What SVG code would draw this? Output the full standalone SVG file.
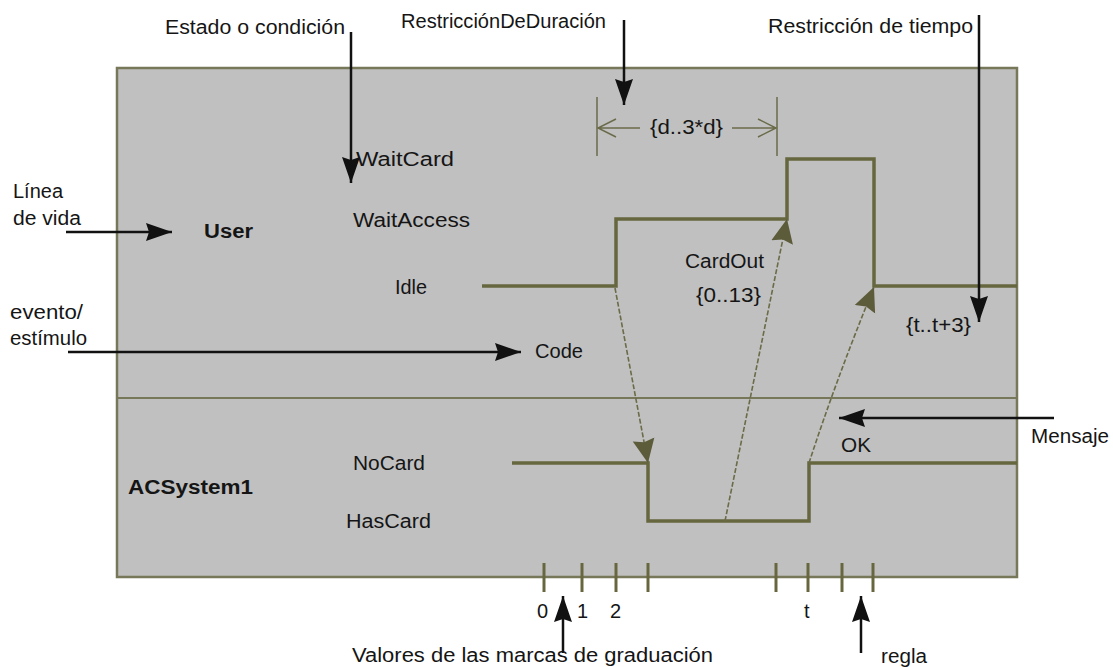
<svg xmlns="http://www.w3.org/2000/svg" width="1113" height="667" viewBox="0 0 1113 667">
<style>
text{font-family:"Liberation Sans",Arial,sans-serif;font-size:20px;fill:#151515}
.b{font-weight:bold}
.ann{stroke:#111;stroke-width:2.5;fill:none}
.sig{stroke:#66663f;stroke-width:3.5;fill:none;stroke-linejoin:miter}
.msg{stroke:#6b6b48;stroke-width:1.6;fill:none;stroke-dasharray:5 2}
.dur{stroke:#6b6b4b;stroke-width:1.5;fill:none}
.tick{stroke:#66663f;stroke-width:3}
</style>
<defs>
<marker id="ah" markerUnits="userSpaceOnUse" markerWidth="28" markerHeight="20" refX="26" refY="10" orient="auto" viewBox="0 0 28 20">
<path d="M0,1 L26,10 L0,19 L3,10 z" fill="#111"/>
</marker>
<marker id="mh" markerUnits="userSpaceOnUse" markerWidth="26" markerHeight="24" refX="24" refY="12" orient="auto" viewBox="0 0 26 24">
<path d="M0,1 L24,12 L0,23 L3,12 z" fill="#5c5c3a"/>
</marker>
</defs>

<g id="frame">
<rect x="117" y="68" width="900" height="509" fill="#c0c0c0" stroke="#77775a" stroke-width="2.5"/>
<line x1="117" y1="398" x2="1017" y2="398" stroke="#77775a" stroke-width="2"/>
</g>

<g id="lifeline-user">
<text class="b" x="204" y="238" textLength="49" lengthAdjust="spacingAndGlyphs">User</text>
<text x="356" y="166" textLength="98" lengthAdjust="spacingAndGlyphs">WaitCard</text>
<text x="353" y="227" textLength="117" lengthAdjust="spacingAndGlyphs">WaitAccess</text>
<text x="395" y="294" textLength="32" lengthAdjust="spacingAndGlyphs">Idle</text>
<text x="535" y="358" textLength="48" lengthAdjust="spacingAndGlyphs">Code</text>
<path class="sig" d="M482,286 H616 V219 H787 V159 H874 V286 H1017"/>
</g>

<g id="lifeline-acsystem">
<text class="b" x="128" y="494" textLength="125" lengthAdjust="spacingAndGlyphs">ACSystem1</text>
<text x="353" y="470" textLength="72" lengthAdjust="spacingAndGlyphs">NoCard</text>
<text x="346" y="528" textLength="85" lengthAdjust="spacingAndGlyphs">HasCard</text>
<path class="sig" d="M512,463 H648 V521 H809 V463 H1017"/>
</g>

<g id="duration-constraint">
<line class="dur" x1="597" y1="97" x2="597" y2="156"/>
<line class="dur" x1="777" y1="97" x2="777" y2="156"/>
<path class="dur" d="M598,128 H640 M616,119 L598,128 L616,137"/>
<path class="dur" d="M732,128 H776 M758,119 L776,128 L758,137"/>
<text x="650" y="134" textLength="73" lengthAdjust="spacingAndGlyphs">{d..3*d}</text>
</g>

<g id="message-labels">
<text x="685" y="268" textLength="79" lengthAdjust="spacingAndGlyphs">CardOut</text>
<text x="696" y="302" textLength="65" lengthAdjust="spacingAndGlyphs">{0..13}</text>
<text x="841" y="452" textLength="30" lengthAdjust="spacingAndGlyphs">OK</text>
<text x="906" y="332" textLength="65" lengthAdjust="spacingAndGlyphs">{t..t+3}</text>
</g>

<g id="ruler">
<line class="tick" x1="544" y1="563" x2="544" y2="592"/>
<line class="tick" x1="582" y1="563" x2="582" y2="592"/>
<line class="tick" x1="616" y1="563" x2="616" y2="592"/>
<line class="tick" x1="648" y1="563" x2="648" y2="592"/>
<line class="tick" x1="776" y1="563" x2="776" y2="592"/>
<line class="tick" x1="808" y1="563" x2="808" y2="592"/>
<line class="tick" x1="842" y1="563" x2="842" y2="592"/>
<line class="tick" x1="873" y1="563" x2="873" y2="592"/>
<text x="537" y="618">0</text>
<text x="577" y="618">1</text>
<text x="610" y="618">2</text>
<text x="804" y="618">t</text>
</g>

<g id="annotations">
<text x="165" y="34" textLength="180" lengthAdjust="spacingAndGlyphs">Estado o condición</text>
<text x="401" y="28" textLength="205" lengthAdjust="spacingAndGlyphs">RestricciónDeDuración</text>
<text x="768" y="33" textLength="205" lengthAdjust="spacingAndGlyphs">Restricción de tiempo</text>
<text x="13" y="198" textLength="50" lengthAdjust="spacingAndGlyphs">Línea</text>
<text x="13" y="225" textLength="68" lengthAdjust="spacingAndGlyphs">de vida</text>
<text x="10" y="319" textLength="73" lengthAdjust="spacingAndGlyphs">evento/</text>
<text x="10" y="345" textLength="77" lengthAdjust="spacingAndGlyphs">estímulo</text>
<text x="1031" y="443" textLength="78" lengthAdjust="spacingAndGlyphs">Mensaje</text>
<text x="352" y="662" textLength="361" lengthAdjust="spacingAndGlyphs">Valores de las marcas de graduación</text>
<text x="881" y="663" textLength="46" lengthAdjust="spacingAndGlyphs">regla</text>
</g>

<g id="connectors">
<line class="msg" x1="615" y1="288" x2="648" y2="463" marker-end="url(#mh)"/>
<line class="msg" x1="725" y1="521" x2="787" y2="219" marker-end="url(#mh)"/>
<path class="msg" d="M809,463 Q836,380 874,287" marker-end="url(#mh)"/>
<line class="ann" x1="351" y1="32" x2="351" y2="183" marker-end="url(#ah)"/>
<line class="ann" x1="624" y1="20" x2="624" y2="105" marker-end="url(#ah)"/>
<line class="ann" x1="979" y1="15" x2="979" y2="322" marker-end="url(#ah)"/>
<line class="ann" x1="66" y1="232" x2="172" y2="232" marker-end="url(#ah)"/>
<line class="ann" x1="68" y1="352" x2="521" y2="352" marker-end="url(#ah)"/>
<line class="ann" x1="1054" y1="418" x2="839" y2="418" marker-end="url(#ah)"/>
<line class="ann" x1="563" y1="653" x2="563" y2="596" marker-end="url(#ah)"/>
<line class="ann" x1="861" y1="653" x2="861" y2="596" marker-end="url(#ah)"/>
</g>
</svg>
